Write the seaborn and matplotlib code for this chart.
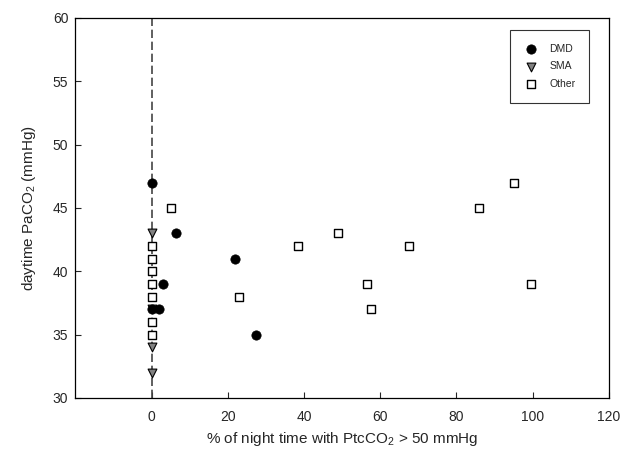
import matplotlib
matplotlib.use("Agg")
import matplotlib.pyplot as plt
import seaborn as sns
import pandas as pd

# ---- data ----
dmd_x = [0, 0, 6.5, 22, 3, 2, 27.5]
dmd_y = [47, 37, 43, 41, 39, 37, 35]
sma_x = [0, 0, 0, 0]
sma_y = [43, 37, 34, 32]
other_x = [0, 0, 0, 0, 0, 0, 0, 5, 38.5, 23, 49, 56.5, 57.5, 67.5, 86, 95, 99.5]
other_y = [42, 41, 40, 39, 38, 36, 35, 45, 42, 38, 43, 39, 37, 42, 45, 47, 39]
xticks = [0, 20, 40, 60, 80, 100, 120]
yticks = [30, 35, 40, 45, 50, 55, 60]

sns.set_style("white")
plt.rcParams["font.family"] = ["Liberation Sans", "DejaVu Sans"]
plt.rcParams["mathtext.default"] = "regular"

fig = plt.figure(figsize=(6.33, 4.59), dpi=100)
ax = fig.add_axes([0.119, 0.133, 0.843, 0.828])

ax.axvline(0, color="#444444", lw=1.2, dashes=(5, 2.2), zorder=1)

dmd = pd.DataFrame({"x": dmd_x, "y": dmd_y})
sma = pd.DataFrame({"x": sma_x, "y": sma_y})
oth = pd.DataFrame({"x": other_x, "y": other_y})

sns.scatterplot(data=oth, x="x", y="y", ax=ax, marker="s", s=30,
                facecolor="white", edgecolor="black", linewidth=1.0,
                label="Other", zorder=3)
sns.scatterplot(data=sma, x="x", y="y", ax=ax, marker="v", s=40,
                facecolor="#808080", edgecolor="black", linewidth=0.8,
                label="SMA", zorder=4)
sns.scatterplot(data=dmd, x="x", y="y", ax=ax, marker="o", s=45,
                facecolor="black", edgecolor="black", linewidth=0.5,
                label="DMD", zorder=5)

ax.set_xlim(-20, 120)
ax.set_ylim(30, 60)
ax.set_xticks(xticks)
ax.set_yticks(yticks)
ax.tick_params(direction="in", length=4, width=0.8, labelsize=10,
               bottom=True, left=True, top=False, right=False)
ax.tick_params(axis="x", pad=9)
ax.tick_params(axis="y", pad=5)
for sp in ax.spines.values():
    sp.set_color("black")
    sp.set_linewidth(0.9)

ax.set_xlabel("% of night time with PtcCO$_2$ > 50 mmHg", fontsize=11, labelpad=4)
ax.set_ylabel("daytime PaCO$_2$ (mmHg)", fontsize=11, labelpad=11)

handles, labels = ax.get_legend_handles_labels()
order = [labels.index(l) for l in ["DMD", "SMA", "Other"]]
leg = ax.legend([handles[i] for i in order], [labels[i] for i in order],
                loc="upper right", bbox_to_anchor=(0.9625, 0.968),
                fontsize=7.5, frameon=True, fancybox=False, edgecolor="black",
                borderpad=1.3, labelspacing=0.75, handletextpad=1.0,
                borderaxespad=0, handlelength=1.5)
leg.get_frame().set_linewidth(0.8)

fig.savefig("out.png", dpi=100)
